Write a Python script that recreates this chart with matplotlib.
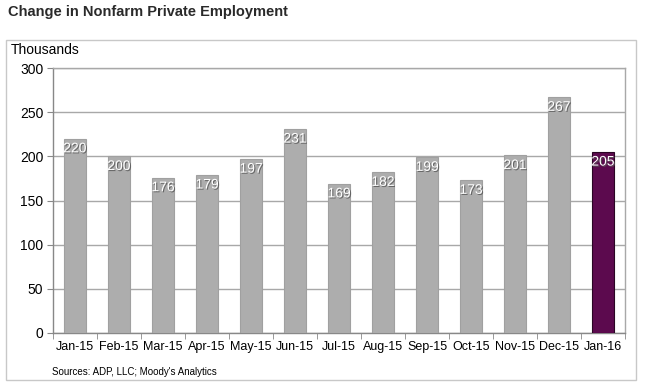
import matplotlib.pyplot as plt
import matplotlib.patheffects as pe
from matplotlib.patches import Rectangle

# Data
months = ['Jan-15', 'Feb-15', 'Mar-15', 'Apr-15', 'May-15', 'Jun-15', 'Jul-15',
          'Aug-15', 'Sep-15', 'Oct-15', 'Nov-15', 'Dec-15', 'Jan-16']
jobs = [220, 200, 176, 179, 197, 231, 169, 182, 199, 173, 201, 267, 205]

plt.rcParams['font.family'] = ['Liberation Sans', 'DejaVu Sans']

fig = plt.figure(figsize=(6.46, 3.89), dpi=100)
ax = fig.add_axes([53/646, 1-333/389, (625-53)/646, (333-68)/389])

gray = '#adadad'
purple = '#5c0a4e'
colors = [gray]*(len(jobs)-1) + [purple]
edges = ['#a0a0a0']*(len(jobs)-1) + ['#2a0524']
x = range(len(months))
bars = ax.bar(x, jobs, width=0.49, color=colors, edgecolor=edges, linewidth=0.8, zorder=3)

for b, v in zip(bars, jobs):
    ax.text(b.get_x() + b.get_width()/2, v - 3, str(v), ha='center', va='top',
            color='white', fontsize=10, zorder=4,
            path_effects=[pe.withSimplePatchShadow(offset=(0.8, -0.8), shadow_rgbFace='#555555', alpha=0.8)])

ax.set_xlim(-0.5, len(months)-0.5)
ax.set_ylim(0, 300)
ax.set_yticks(range(0, 301, 50))
ax.set_xticks(x)
ax.set_xticklabels(months, fontsize=9)
ax.set_xticks([i - 0.5 for i in range(len(months)+1)], minor=True)
ax.tick_params(axis='x', which='major', length=0, pad=6)
ax.tick_params(axis='x', which='minor', length=4, color='#888888')
ax.tick_params(axis='y', length=4, color='#888888', labelsize=10, pad=3)
ax.grid(axis='y', color='#a8a8a8', linewidth=1, zorder=0)
for s in ax.spines.values():
    s.set_color('#a8a8a8')
    s.set_linewidth(1)
ax.spines['left'].set_color('#888888')
ax.spines['bottom'].set_color('#888888')

# outer frame
fig.patches.append(Rectangle((6/646, 1-380/389), (636-6)/646, (380-40)/389,
                             transform=fig.transFigure, fill=False,
                             edgecolor='#c8c8c8', linewidth=1))

fig.text(8/646, 1-12/389, 'Change in Nonfarm Private Employment', fontsize=10.5,
         fontweight='bold', color='#2a2a2a', va='center', ha='left')
fig.text(11/646, 1-50/389, 'Thousands', fontsize=10, va='center', ha='left')
fig.text(52/646, 1-372/389, "Sources: ADP, LLC; Moody's Analytics", fontsize=7,
         va='center', ha='left')

fig.savefig('out.png', dpi=100)
